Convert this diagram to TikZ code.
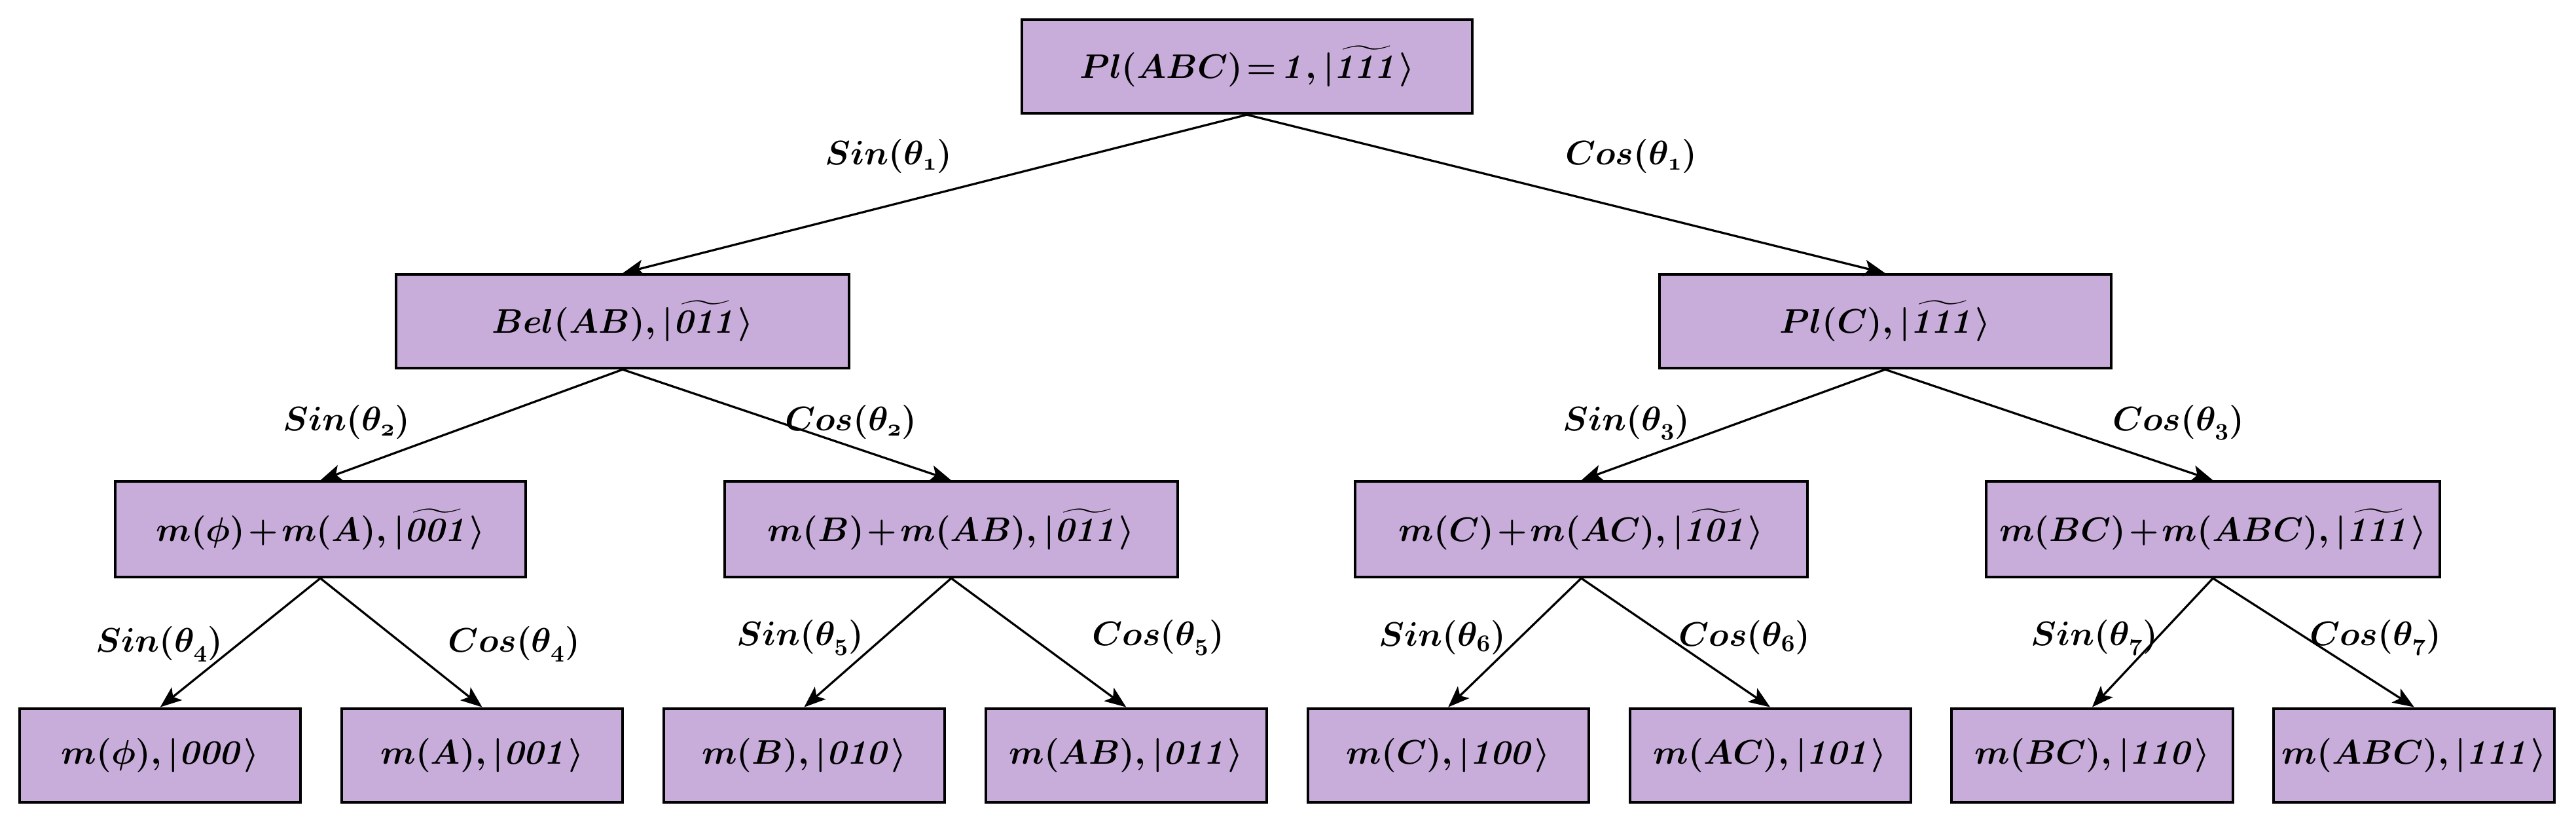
\documentclass[tikz,border=0pt]{standalone}
\usepackage{amsmath,amssymb}
\usetikzlibrary{arrows.meta}
\definecolor{boxfill}{RGB}{200,173,219}
\newcommand{\tplus}{\mkern-2.5mu+\mkern-2.5mu}
\begin{document}
\begin{tikzpicture}[x=1pt,y=-1pt,
  box/.style={draw=black, line width=1.6pt, fill=boxfill, inner sep=0pt,
    minimum height=57pt, font=\fontsize{20}{24}\selectfont\boldmath},
  lvtop/.style={box, minimum width=274pt},
  lvone/.style={box, minimum width=276pt},
  lvtwo/.style={box, minimum width=276pt, minimum height=58pt},
  leaf/.style={box, minimum width=171pt},
  lbl/.style={inner sep=0pt, font=\fontsize{20}{24}\selectfont\boldmath},
  arr/.style={line width=1.3pt, -{Stealth[length=13pt,width=10pt,inset=3pt]}}]
\useasboundingbox (0,0) rectangle (1568,500);
% nodes
\node[lvtop] (top) at (759,40.5) {$Pl(ABC)\!=\!\mathit{1},|\widetilde{\mathit{111}}\rangle$};
\node[lvone] (bel) at (379,195.5) {$Bel(AB),|\widetilde{\mathit{011}}\rangle$};
\node[lvone, minimum width=275pt] (plc) at (1147.5,195.5) {$Pl(C),|\widetilde{\mathit{111}}\rangle$};
\node[lvtwo, minimum width=250pt] (na) at (195,322) {$m(\phi)\tplus m(A),|\widetilde{\mathit{001}}\rangle$};
\node[lvtwo] (nb) at (579,322) {$m(B)\tplus m(AB),|\widetilde{\mathit{011}}\rangle$};
\node[lvtwo, minimum width=275pt] (nc) at (962.5,322) {$m(C)\tplus m(AC),|\widetilde{\mathit{101}}\rangle$};
\node[lvtwo] (nd) at (1347,322) {$m(BC)\tplus m(ABC),|\widetilde{\mathit{111}}\rangle$};
\node[leaf] (l0) at (97.5,459.5) {$m(\phi),|\mathit{000}\rangle$};
\node[leaf] (l1) at (293.5,459.5) {$m(A),|\mathit{001}\rangle$};
\node[leaf] (l2) at (489.5,459.5) {$m(B),|\mathit{010}\rangle$};
\node[leaf] (l3) at (685.5,459.5) {$m(AB),|\mathit{011}\rangle$};
\node[leaf] (l4) at (881.5,459.5) {$m(C),|\mathit{100}\rangle$};
\node[leaf] (l5) at (1077.5,459.5) {$m(AC),|\mathit{101}\rangle$};
\node[leaf] (l6) at (1273.5,459.5) {$m(BC),|\mathit{110}\rangle$};
\node[leaf] (l7) at (1469.5,459.5) {$m(ABC),|\mathit{111}\rangle$};
% connectors
\draw[arr] (top.south) -- (bel.north);
\draw[arr] (top.south) -- (plc.north);
\draw[arr] (bel.south) -- (na.north);
\draw[arr] (bel.south) -- (nb.north);
\draw[arr] (plc.south) -- (nc.north);
\draw[arr] (plc.south) -- (nd.north);
\draw[arr] (na.south) -- (l0.north);
\draw[arr] (na.south) -- (l1.north);
\draw[arr] (nb.south) -- (l2.north);
\draw[arr] (nb.south) -- (l3.north);
\draw[arr] (nc.south) -- (l4.north);
\draw[arr] (nc.south) -- (l5.north);
\draw[arr] (nd.south) -- (l6.north);
\draw[arr] (nd.south) -- (l7.north);
% labels
\node[lbl] (s1) at (541,95) {$Sin(\theta_{\mathnormal{1}})$};
\node[lbl] (c1) at (993,95) {$Cos(\theta_{\mathnormal{1}})$};
\node[lbl] (s2) at (211,257) {$Sin(\theta_{\mathnormal{2}})$};
\node[lbl] (c2) at (518,257) {$Cos(\theta_{\mathnormal{2}})$};
\node[lbl] (s3) at (990,257) {$Sin(\theta_{\mathnormal{3}})$};
\node[lbl] (c3) at (1326,257) {$Cos(\theta_{\mathnormal{3}})$};
\node[lbl] (s4) at (97,392) {$Sin(\theta_{\mathnormal{4}})$};
\node[lbl] (c4) at (313,392) {$Cos(\theta_{\mathnormal{4}})$};
\node[lbl] (s5) at (487,388) {$Sin(\theta_{\mathnormal{5}})$};
\node[lbl] (c5) at (705,388) {$Cos(\theta_{\mathnormal{5}})$};
\node[lbl] (s6) at (878,388) {$Sin(\theta_{\mathnormal{6}})$};
\node[lbl] (c6) at (1062,388) {$Cos(\theta_{\mathnormal{6}})$};
\node[lbl] (s7) at (1275,388) {$Sin(\theta_{\mathnormal{7}})$};
\node[lbl] (c7) at (1446,388) {$Cos(\theta_{\mathnormal{7}})$};
\end{tikzpicture}
\end{document}
